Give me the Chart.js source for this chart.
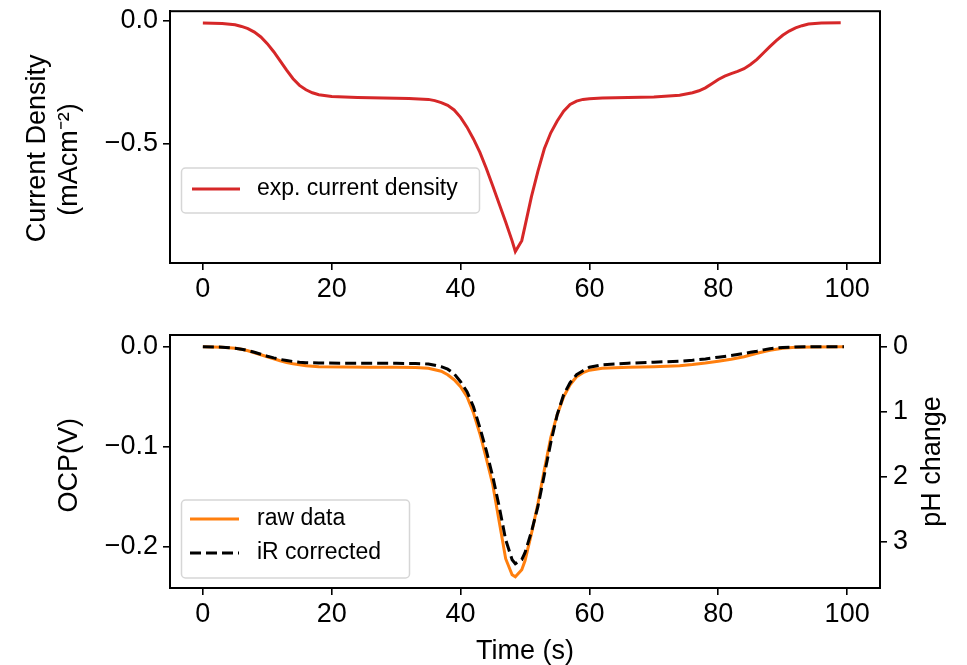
<!DOCTYPE html>
<html>
<head>
<meta charset="utf-8">
<script src="https://cdn.jsdelivr.net/npm/chart.js@4.4.0/dist/chart.umd.min.js"></script>
<style>
    html, body { margin: 0; padding: 0; background: #fff; overflow: hidden; }
    #quadro { position: relative; width: 967px; height: 665px; overflow: hidden; }
    canvas { position: absolute; left: 0; }
</style>
</head>
<body>
<div id="quadro">
    <canvas id="GraficoCorrente" width="967" height="310" style="top:-10px"></canvas>
    <canvas id="GraficoOCP" width="967" height="365" style="top:300px"></canvas>
</div>
<script>
const tempoCorrente = [0, 3, 5, 6, 7, 8, 9, 10, 11, 12, 13, 14, 15, 16, 17, 18, 20, 24, 28, 32,
    35, 36, 37, 38, 39, 40, 41, 42, 43, 44, 45, 46, 47, 48, 48.5, 49.5, 50, 51, 52, 53,
    54, 55, 56, 57, 58, 59, 60, 62, 66, 70, 74, 76, 77, 78, 79, 80, 81, 82, 83, 84,
    85, 86, 87, 88, 89, 90, 91, 92, 93, 94, 96, 99];
const densidadeCorrente = [-0.008, -0.010, -0.015, -0.022, -0.031, -0.045, -0.065, -0.092, -0.125, -0.162,
    -0.200, -0.235, -0.262, -0.280, -0.292, -0.300, -0.307, -0.311, -0.313, -0.315,
    -0.319, -0.324, -0.332, -0.343, -0.362, -0.392, -0.432, -0.480, -0.535, -0.600,
    -0.672, -0.745, -0.818, -0.895, -0.938, -0.894, -0.835, -0.715, -0.612, -0.520,
    -0.455, -0.407, -0.367, -0.340, -0.326, -0.319, -0.316, -0.313, -0.311, -0.309,
    -0.302, -0.292, -0.284, -0.272, -0.255, -0.238, -0.224, -0.214, -0.205, -0.194,
    -0.177, -0.156, -0.130, -0.104, -0.080, -0.058, -0.041, -0.028, -0.019, -0.012,
    -0.008, -0.007];

const tempoOCP = [0, 3, 5, 6, 7, 8, 9, 10, 11, 12, 13, 14, 15, 16, 18, 22, 26, 30, 33, 35,
    36, 37, 38, 39, 40, 41, 42, 43, 44, 45, 46, 47, 48, 48.5, 49.5, 50, 51, 52, 53, 54,
    55, 56, 57, 58, 59, 60, 62, 66, 70, 74, 76, 78, 80, 82, 84, 85, 86, 87, 88, 89,
    90, 92, 95, 99.5];
const ocpBruto = [0, -0.0005, -0.0015, -0.0025, -0.004, -0.006, -0.008, -0.010, -0.012, -0.014,
    -0.0158, -0.017, -0.018, -0.019, -0.020, -0.0203, -0.0205, -0.0206, -0.0208, -0.0215,
    -0.023, -0.0245, -0.028, -0.033, -0.040, -0.050, -0.066, -0.087, -0.112, -0.138,
    -0.175, -0.212, -0.228, -0.230, -0.223, -0.214, -0.187, -0.157, -0.123, -0.091,
    -0.068, -0.050, -0.038, -0.030, -0.026, -0.0235, -0.0215, -0.0205, -0.020, -0.019,
    -0.0178, -0.0163, -0.0145, -0.0125, -0.010, -0.0083, -0.0065, -0.005, -0.0037, -0.0025,
    -0.0015, -0.0006, -0.0002, 0];
const ocpCorrigido = [0, -0.0005, -0.0015, -0.0025, -0.0038, -0.0055, -0.0075, -0.0095, -0.0112, -0.0127,
    -0.0138, -0.0148, -0.0155, -0.016, -0.0163, -0.0165, -0.0165, -0.0166, -0.0168, -0.0173,
    -0.0185, -0.020, -0.0225, -0.027, -0.035, -0.045, -0.060, -0.081, -0.104, -0.130,
    -0.160, -0.193, -0.213, -0.217, -0.213, -0.206, -0.185, -0.160, -0.128, -0.096,
    -0.068, -0.048, -0.036, -0.028, -0.024, -0.0205, -0.018, -0.0165, -0.0155, -0.0145,
    -0.0135, -0.0122, -0.0105, -0.0088, -0.0067, -0.0056, -0.0045, -0.0032, -0.002, -0.0013,
    -0.0008, -0.0002, 0, 0];

const ticksTempo = [0, 20, 40, 60, 80, 100];
const ticksCorrente = [0, -0.5];
const ticksOCP = [0, -0.1, -0.2];
const ticksPH = [0, 1, 2, 3];

const FONTE = "'Liberation Sans', Arial, Helvetica, sans-serif";
Chart.defaults.font.family = FONTE;
Chart.defaults.font.size = 27;
Chart.defaults.color = '#000';

function pontos(xs, ys) {
    return xs.map(function (x, i) { return { x: x, y: ys[i] }; });
}

function fixarTicks(lista) {
    return function (escala) {
        escala.ticks = lista.map(function (v) { return { value: v }; });
    };
}

function menos(v) {
    return v.toFixed(1).replace('-', '\u2212');
}

const grade = { drawOnChartArea: false, drawTicks: true, tickLength: 7, color: '#000', lineWidth: 1.6 };
const borda = { display: true, color: '#000', width: 2 };

// moldura completa (matplotlib desenha os 4 lados)
const moldura = {
    id: 'moldura',
    afterDatasetsDraw: function (chart) {
        const a = chart.chartArea, ctx = chart.ctx;
        ctx.save();
        ctx.strokeStyle = '#000';
        ctx.lineWidth = 2;
        ctx.strokeRect(a.left, a.top, a.right - a.left, a.bottom - a.top);
        ctx.restore();
    }
};

// legenda dentro da area do grafico
const legendaInterna = {
    id: 'legendaInterna',
    afterDraw: function (chart, args, op) {
        const ctx = chart.ctx;
        ctx.save();
        ctx.beginPath();
        ctx.roundRect(op.x, op.y, op.w, op.h, 4);
        ctx.fillStyle = 'rgba(255,255,255,0.8)';
        ctx.fill();
        ctx.strokeStyle = 'rgba(204,204,204,0.8)';
        ctx.lineWidth = 1.5;
        ctx.stroke();
        ctx.font = op.fonte + 'px ' + FONTE;
        ctx.textBaseline = 'middle';
        ctx.fillStyle = '#000';
        chart.data.datasets.forEach(function (ds, i) {
            const cy = op.linha0 + i * op.passo;
            ctx.beginPath();
            ctx.strokeStyle = ds.borderColor;
            ctx.lineWidth = ds.borderWidth;
            ctx.setLineDash(ds.borderDash || []);
            ctx.moveTo(op.amostraX, cy);
            ctx.lineTo(op.amostraX + op.amostraW, cy);
            ctx.stroke();
            ctx.setLineDash([]);
            ctx.fillText(ds.label, op.textoX, cy);
        });
        ctx.restore();
    }
};

// titulo do eixo direito lido de baixo para cima, como no original
const tituloDireito = {
    id: 'tituloDireito',
    afterDraw: function (chart, args, op) {
        if (!op.text) return;
        const s = chart.scales.yPH, a = chart.chartArea, ctx = chart.ctx;
        ctx.save();
        ctx.translate(s.left + op.offset, (a.top + a.bottom) / 2);
        ctx.rotate(-Math.PI / 2);
        ctx.font = '27px ' + FONTE;
        ctx.fillStyle = '#000';
        ctx.textAlign = 'center';
        ctx.textBaseline = 'middle';
        ctx.fillText(op.text, 0, 0);
        ctx.restore();
    }
};

function MontarGraficoCorrente() {
    new Chart(document.getElementById('GraficoCorrente'), {
        type: 'line',
        data: {
            datasets: [{
                label: 'exp. current density',
                data: pontos(tempoCorrente, densidadeCorrente),
                borderColor: '#d62728',
                borderWidth: 3,
                pointRadius: 0,
                tension: 0,
                fill: false
            }]
        },
        options: {
            responsive: false,
            animation: false,
            devicePixelRatio: 1,
            layout: { padding: { top: 20, right: 87, left: 0, bottom: 0 } },
            plugins: {
                legend: { display: false },
                tooltip: { enabled: false },
                legendaInterna: {
                    x: 181.5, y: 178, w: 298, h: 45, fonte: 23,
                    linha0: 199, passo: 34, amostraX: 192, amostraW: 48, textoX: 257
                }
            },
            scales: {
                x: {
                    type: 'linear', min: -5.1, max: 105.1,
                    afterBuildTicks: fixarTicks(ticksTempo),
                    afterFit: function (s) { s.height = 37; },
                    ticks: { padding: 3, maxRotation: 0, autoSkip: false, callback: function (v) { return String(v); } },
                    grid: grade, border: borda
                },
                y: {
                    min: -0.985, max: 0.04,
                    afterBuildTicks: fixarTicks(ticksCorrente),
                    afterFit: function (s) { s.width = 170; },
                    ticks: { padding: 5, autoSkip: false, callback: menos },
                    title: {
                        display: true,
                        text: ['Current Density   ', '(mAcm\u207B\u00B2)      '],
                        padding: { top: 21, bottom: 0 },
                        font: { size: 27, lineHeight: 1.2 }
                    },
                    grid: grade, border: borda
                }
            }
        },
        plugins: [moldura, legendaInterna]
    });
}

function MontarGraficoOCP() {
    new Chart(document.getElementById('GraficoOCP'), {
        type: 'line',
        data: {
            datasets: [{
                label: 'raw data',
                data: pontos(tempoOCP, ocpBruto),
                borderColor: '#ff7f0e',
                borderWidth: 3,
                pointRadius: 0,
                tension: 0,
                fill: false,
                order: 1
            }, {
                label: 'iR corrected',
                data: pontos(tempoOCP, ocpCorrigido),
                borderColor: '#000000',
                borderWidth: 3,
                borderDash: [11, 5],
                pointRadius: 0,
                tension: 0,
                fill: false,
                order: 0
            }]
        },
        options: {
            responsive: false,
            animation: false,
            devicePixelRatio: 1,
            layout: { padding: { top: 35, right: 0, left: 0, bottom: 0 } },
            plugins: {
                legend: { display: false },
                tooltip: { enabled: false },
                legendaInterna: {
                    x: 181.5, y: 200, w: 228, h: 78, fonte: 23,
                    linha0: 219, passo: 34, amostraX: 190, amostraW: 49, textoX: 257
                },
                tituloDireito: { text: 'pH change', offset: 53 }
            },
            scales: {
                x: {
                    type: 'linear', min: -5.1, max: 105.1,
                    afterBuildTicks: fixarTicks(ticksTempo),
                    afterFit: function (s) { s.height = 77; },
                    ticks: { padding: 3, maxRotation: 0, autoSkip: false, callback: function (v) { return String(v); } },
                    title: { display: true, text: 'Time (s)', padding: { top: 0, bottom: 0 }, font: { size: 27, lineHeight: 1.0 } },
                    grid: grade, border: borda
                },
                y: {
                    min: -0.2413, max: 0.0117,
                    afterBuildTicks: fixarTicks(ticksOCP),
                    afterFit: function (s) { s.width = 170; },
                    ticks: { padding: 5, autoSkip: false, callback: menos },
                    title: { display: true, text: 'OCP(V) ', padding: { top: 53, bottom: 0 }, font: { size: 27, lineHeight: 1.2 } },
                    grid: grade, border: borda
                },
                yPH: {
                    position: 'right', reverse: true,
                    min: -0.18, max: 3.712,
                    afterBuildTicks: fixarTicks(ticksPH),
                    afterFit: function (s) { s.width = 87; },
                    ticks: { padding: 6, autoSkip: false, callback: function (v) { return String(v); } },
                    grid: grade, border: borda
                }
            }
        },
        plugins: [moldura, legendaInterna, tituloDireito]
    });
}

MontarGraficoCorrente();
MontarGraficoOCP();
</script>
</body>
</html>
